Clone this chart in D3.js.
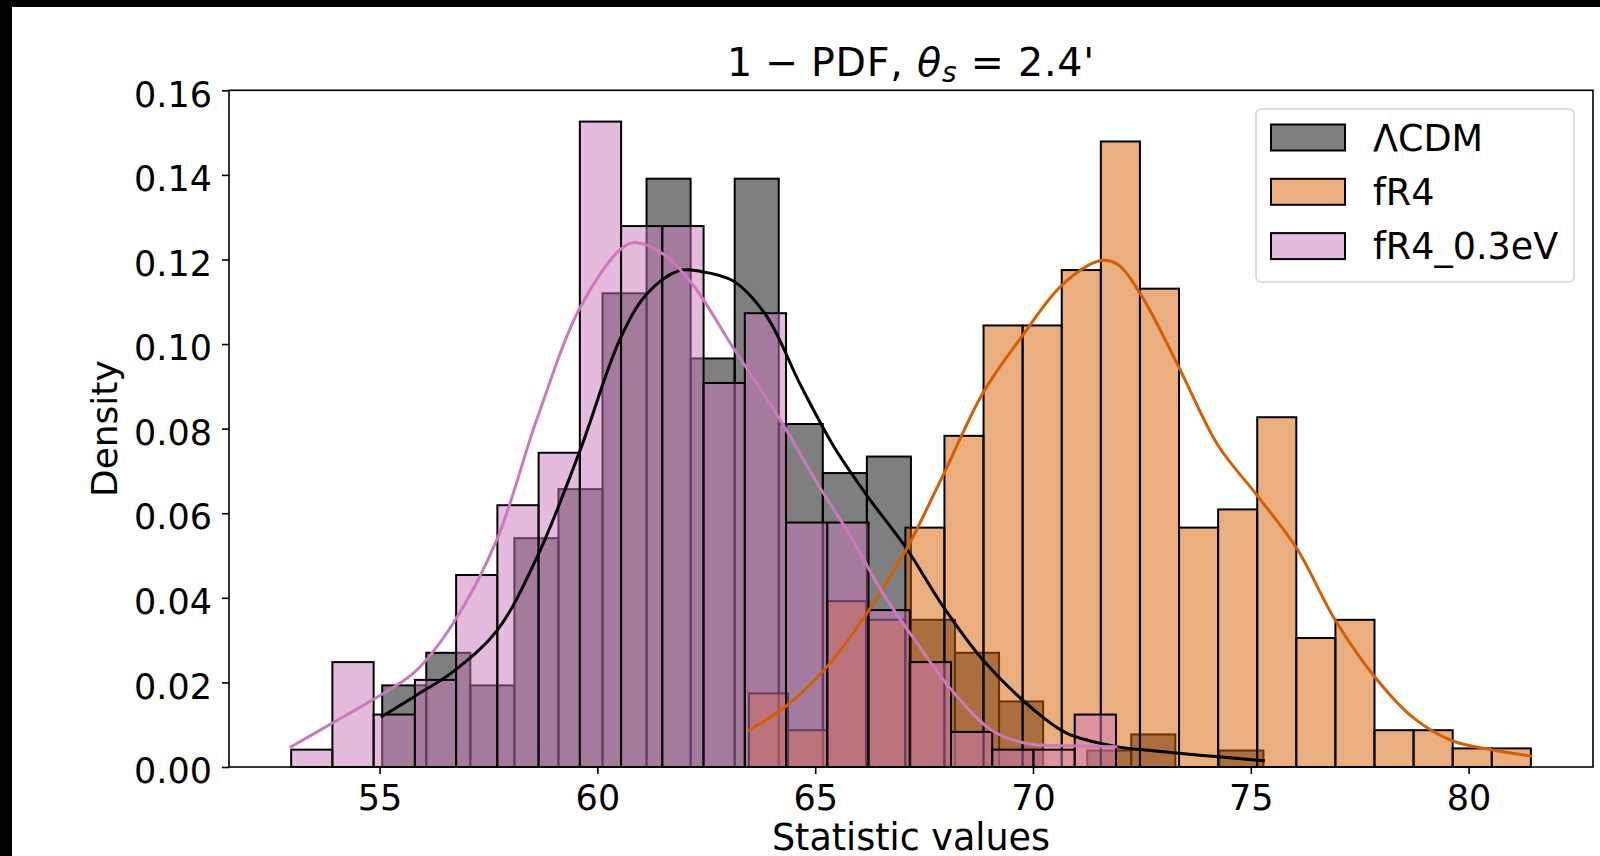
<!DOCTYPE html>
<html>
<head>
<meta charset="utf-8">
<script src="https://cdn.jsdelivr.net/npm/d3@7"></script>
<style>
  html, body { margin: 0; padding: 0; background: #fff; }
  svg { display: block; font-family: "DejaVu Sans", sans-serif; }
</style>
</head>
<body>
<svg id="chart" width="1600" height="856"></svg>
<script>
// histogram ranges [first edge, last edge], 20 equal bins each
const lcdmRange = [55.06, 75.29];
const fr4Range = [63.48, 81.43];
const fr4nuRange = [52.97, 71.905];

// bar heights (density)
const lcdmDensity = [0.0193, 0.0270, 0.0193, 0.0541, 0.0657, 0.1120, 0.1391, 0.0966, 0.1391, 0.0811,
                     0.0695, 0.0734, 0.0348, 0.0270, 0.0155, 0.0000, 0.0039, 0.0077, 0.0000, 0.0039];
const fr4Density = [0.0174, 0.0087, 0.0392, 0.0348, 0.0566, 0.0783, 0.1044, 0.1044, 0.1175, 0.1479,
                    0.1131, 0.0566, 0.0609, 0.0827, 0.0305, 0.0348, 0.0087, 0.0087, 0.0044, 0.0044];
const fr4nuDensity = [0.0041, 0.0248, 0.0124, 0.0206, 0.0454, 0.0619, 0.0743, 0.1526, 0.1279, 0.1279,
                      0.0908, 0.1073, 0.0578, 0.0578, 0.0371, 0.0248, 0.0083, 0.0041, 0.0041, 0.0124];

// kde curves, [value, density] points
const lcdmKde = [[55.06, 0.0120], [55.82, 0.0168], [56.72, 0.0228], [57.69, 0.0322], [58.61, 0.0495],
                 [59.60, 0.0748], [60.52, 0.1012], [61.13, 0.1118], [61.86, 0.1173], [62.36, 0.1172],
                 [63.12, 0.1149], [63.89, 0.1065], [64.65, 0.0906], [65.42, 0.0759], [66.18, 0.0643],
                 [67.10, 0.0516], [67.94, 0.0379], [68.86, 0.0252], [70.01, 0.0136], [70.77, 0.0080],
                 [71.92, 0.0048], [72.69, 0.0039], [73.83, 0.0028], [75.29, 0.0015]];
const fr4Kde = [[63.48, 0.0087], [64.32, 0.0143], [65.27, 0.0237], [66.21, 0.0367], [67.10, 0.0516],
                [67.96, 0.0695], [68.86, 0.0886], [69.76, 0.1020], [70.66, 0.1139], [71.54, 0.1197],
                [71.92, 0.1190], [72.46, 0.1120], [73.35, 0.0945], [74.25, 0.0760], [75.14, 0.0643],
                [76.06, 0.0516], [76.94, 0.0347], [77.87, 0.0210], [78.75, 0.0115], [79.63, 0.0062],
                [80.53, 0.0041], [81.43, 0.0026]];
const fr4nuKde = [[52.97, 0.0048], [53.90, 0.0103], [54.86, 0.0160], [55.81, 0.0225], [56.69, 0.0340],
                  [57.69, 0.0537], [58.61, 0.0822], [59.60, 0.1086], [60.52, 0.1223], [60.85, 0.1240],
                  [61.51, 0.1213], [62.20, 0.1139], [63.12, 0.0991], [64.19, 0.0822], [65.03, 0.0674],
                  [65.80, 0.0548], [66.56, 0.0410], [67.33, 0.0294], [68.13, 0.0182], [69.05, 0.0087],
                  [69.83, 0.0056], [70.92, 0.0050], [71.905, 0.0048]];

const xTicks = [55, 60, 65, 70, 75, 80];
const yTicks = [0, 0.02, 0.04, 0.06, 0.08, 0.10, 0.12, 0.14, 0.16];

const series = [
  { name: 'ΛCDM', range: lcdmRange, density: lcdmDensity, kde: lcdmKde, fill: '#000000', line: '#000000' },
  { name: 'fR4', range: fr4Range, density: fr4Density, kde: fr4Kde, fill: '#d55e00', line: '#d55e00' },
  { name: 'fR4_0.3eV', range: fr4nuRange, density: fr4nuDensity, kde: fr4nuKde, fill: '#cc78bc', line: '#cc78bc' },
];

const svg = d3.select('#chart');
const plotLeft = 229, plotRight = 1593, plotTop = 90.3, plotBottom = 767;

// black border strips of the original figure
svg.append('rect').attr('x', 0).attr('y', 0).attr('width', 1600).attr('height', 7).attr('fill', '#000');
svg.append('rect').attr('x', 0).attr('y', 0).attr('width', 12).attr('height', 856).attr('fill', '#000');

const x = d3.scaleLinear().domain([51.543, 82.856]).range([plotLeft, plotRight]);
const y = d3.scaleLinear().domain([0, 0.16]).range([plotBottom, plotTop]);

// bars
series.forEach(s => {
  const n = s.density.length;
  const w = (s.range[1] - s.range[0]) / n;
  const bins = s.density.map((d, i) => ({ x0: s.range[0] + i * w, x1: s.range[0] + (i + 1) * w, d }));
  svg.append('g')
    .selectAll('rect')
    .data(bins.filter(b => b.d > 0))
    .join('rect')
    .attr('x', b => x(b.x0))
    .attr('y', b => y(b.d))
    .attr('width', b => x(b.x1) - x(b.x0))
    .attr('height', b => y(0) - y(b.d))
    .attr('fill', s.fill)
    .attr('fill-opacity', 0.5)
    .attr('stroke', '#000')
    .attr('stroke-width', 2);
});

// kde lines
const line = d3.line()
  .x(d => x(d[0]))
  .y(d => y(d[1]))
  .curve(d3.curveCatmullRom.alpha(0.5));

series.forEach(s => {
  svg.append('path')
    .datum(s.kde)
    .attr('d', line)
    .attr('fill', 'none')
    .attr('stroke', s.line)
    .attr('stroke-width', 3)
    .attr('stroke-linecap', 'square');
});

// axes
const xAxis = svg.append('g')
  .attr('transform', `translate(0,${plotBottom})`)
  .call(d3.axisBottom(x).tickValues(xTicks).tickSize(7).tickPadding(11.6).tickSizeOuter(0));
const yAxis = svg.append('g')
  .attr('transform', `translate(${plotLeft},0)`)
  .call(d3.axisLeft(y).tickValues(yTicks).tickSize(7).tickPadding(10).tickSizeOuter(0)
    .tickFormat(d3.format('.2f')));

[xAxis, yAxis].forEach(a => {
  a.select('.domain').remove();
  a.selectAll('line').attr('stroke', '#000').attr('stroke-width', 1.6);
  a.selectAll('text').attr('font-size', 35).attr('fill', '#000').attr('font-family', '"DejaVu Sans", sans-serif');
});
yAxis.selectAll('text').attr('dy', '0.45em');

// frame
svg.append('rect')
  .attr('x', plotLeft).attr('y', plotTop)
  .attr('width', plotRight - plotLeft).attr('height', plotBottom - plotTop)
  .attr('fill', 'none').attr('stroke', '#000').attr('stroke-width', 1.6);

// title (mathtext-like spacing)
const title = svg.append('text')
  .attr('x', (plotLeft + plotRight) / 2).attr('y', 76)
  .attr('text-anchor', 'middle')
  .attr('font-size', 39.5)
  .attr('letter-spacing', 0.8);
title.append('tspan').text('1');
title.append('tspan').attr('dx', 12).text('−');
title.append('tspan').attr('dx', 12).text('PDF, ');
title.append('tspan').attr('font-style', 'italic').text('θ');
title.append('tspan').attr('font-style', 'italic').attr('font-size', 28).attr('dy', 6).text('s');
title.append('tspan').attr('dy', -6).text(' = 2.4\'');

// axis labels
svg.append('text')
  .attr('x', (plotLeft + plotRight) / 2).attr('y', 850)
  .attr('text-anchor', 'middle').attr('font-size', 36.5)
  .text('Statistic values');
svg.append('text')
  .attr('transform', `translate(117,${(plotTop + plotBottom) / 2}) rotate(-90)`)
  .attr('text-anchor', 'middle').attr('font-size', 36)
  .text('Density');

// legend
const lg = svg.append('g');
lg.append('rect')
  .attr('x', 1256).attr('y', 109)
  .attr('width', 318).attr('height', 173)
  .attr('rx', 5)
  .attr('fill', '#fff').attr('fill-opacity', 0.8)
  .attr('stroke', '#d6d6d6').attr('stroke-width', 1.6);
series.forEach((s, i) => {
  const cy = 137.5 + i * 54.3;
  lg.append('rect')
    .attr('x', 1271).attr('y', cy - 13)
    .attr('width', 74).attr('height', 26)
    .attr('fill', s.fill).attr('fill-opacity', 0.5)
    .attr('stroke', '#000').attr('stroke-width', 2);
  lg.append('text')
    .attr('x', 1373).attr('y', cy + 13)
    .attr('font-size', 36.5)
    .text(s.name);
});
</script>
</body>
</html>
